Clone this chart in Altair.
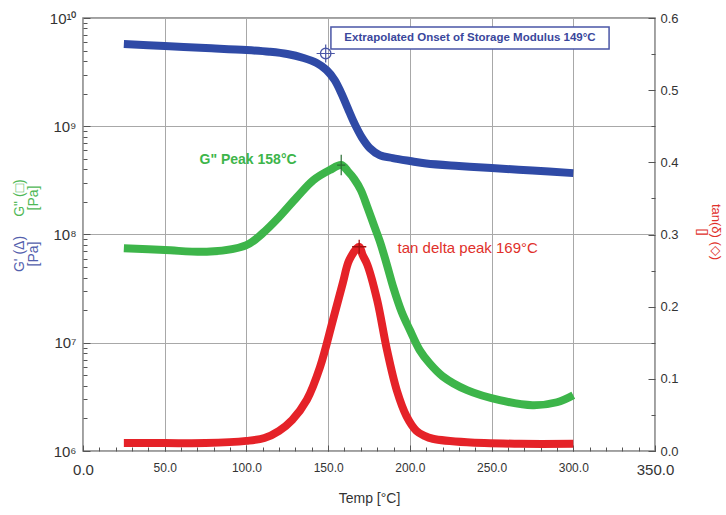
import altair as alt
import pandas as pd

# ---------------- data ----------------
temp_gp = [25, 50, 75, 100, 114, 125, 135, 143, 149, 154, 158, 162, 166, 170.5,
           175.5, 181.5, 189.5, 200, 210, 230, 250, 275, 300]
gp_pa = [5.75e9, 5.51e9, 5.28e9, 5.06e9, 4.88e9, 4.65e9, 4.27e9, 3.84e9, 3.31e9,
         2.67e9, 2.03e9, 1.47e9, 1.07e9, 7.95e8, 6.29e8, 5.42e8, 5.08e8, 4.77e8,
         4.52e8, 4.29e8, 4.11e8, 3.90e8, 3.69e8]

temp_gpp = [25, 50, 78, 100, 110, 120, 131, 141, 151, 158, 162, 166, 170, 174, 178,
            182, 186, 190, 195, 200, 206, 212, 220, 235, 255, 275, 290, 300]
gpp_pa = [7.48e7, 7.18e7, 6.95e7, 7.98e7, 1.03e8, 1.45e8, 2.22e8, 3.18e8, 3.94e8,
          4.38e8, 3.85e8, 3.25e8, 2.57e8, 1.79e8, 1.22e8, 8.32e7, 5.21e7, 3.20e7,
          1.92e7, 1.31e7, 8.55e6, 6.47e6, 4.91e6, 3.65e6, 2.95e6, 2.65e6, 2.82e6, 3.28e6]

temp_tan = [25, 50, 75, 100, 111, 120, 128, 137, 145, 153, 159, 163, 169, 171, 174,
            180, 186, 192, 198, 204, 209, 214, 235, 267, 300]
tan_delta = [0.011, 0.011, 0.011, 0.014, 0.018, 0.028, 0.043, 0.071, 0.116, 0.182,
             0.233, 0.265, 0.283, 0.272, 0.258, 0.209, 0.140, 0.084, 0.048, 0.028,
             0.021, 0.017, 0.012, 0.010, 0.010]

x_major = [0, 50, 100, 150, 200, 250, 300, 350]
x_minor = list(range(0, 351, 10))
log_major = [1e6, 1e7, 1e8, 1e9, 1e10]
log_minor = [m * 10 ** e for e in range(6, 10) for m in range(2, 10)]
tan_major = [0.0, 0.1, 0.2, 0.3, 0.4, 0.5, 0.6]
tan_minor = [0.05, 0.15, 0.25, 0.35, 0.45, 0.55]

onset_T, onset_v = [148.5], [4.7e9]
onset_text = ["Extrapolated Onset of Storage Modulus 149°C"]
onset_box_T, onset_box_T2 = [151.7], [321.9]
onset_box_v, onset_box_v2 = [8.26e9], [5.17e9]
onset_text_T, onset_text_v = [236.8], [6.53e9]

gpp_peak_T, gpp_peak_v = [158], [4.38e8]
gpp_label = ['G" Peak 158°C']
gpp_label_T, gpp_label_v = [101], [4.9e8]

tan_peak_T, tan_peak_v = [169], [0.283]
tan_label = ["tan delta peak 169°C"]
tan_label_T, tan_label_v = [192.5], [0.281]

BLUE = "#2f4aa6"
GREEN = "#3db54a"
RED = "#e52228"
FONT = "Liberation Sans"
INTERP = "catmull-rom"

XS = alt.Scale(domain=[0, 350], nice=False, zero=False)
YL = alt.Scale(type="log", domain=[1e6, 1e10], nice=False)
YR = alt.Scale(domain=[0, 0.6], nice=False, zero=False)

df_gp = pd.DataFrame({"T": temp_gp, "v": gp_pa})
df_gpp = pd.DataFrame({"T": temp_gpp, "v": gpp_pa})
df_tan = pd.DataFrame({"T": temp_tan, "v": tan_delta})

sup_expr = ("datum.value >= 1e10*0.99 ? '10¹⁰' : datum.value >= 1e9*0.99 ? '10⁹' : "
            "datum.value >= 1e8*0.99 ? '10⁸' : datum.value >= 1e7*0.99 ? '10⁷' : '10⁶'")

NOX = alt.X("T:Q", scale=XS, axis=None)

# ---------------- main series ----------------
blue = alt.Chart(df_gp).mark_line(color=BLUE, strokeWidth=8, interpolate=INTERP).encode(
    x=alt.X("T:Q", scale=XS, axis=alt.Axis(
        orient="bottom", values=x_major, format=".1f", grid=True, gridColor="#a8a8a8",
        gridWidth=1, ticks=False, domain=False, labelFlush=False,
        labelFontSize={"condition": {"test": "datum.value == 0 || datum.value == 350", "value": 15}, "value": 12},
        labelColor="#333333", labelPadding=11, labelFont=FONT,
        title="Temp [°C]", titleFont=FONT, titleFontSize=14, titleFontWeight="normal",
        titleColor="#333333", titleY=40, titleBaseline="top")),
    y=alt.Y("v:Q", scale=YL, axis=alt.Axis(
        orient="left", values=log_major, labelExpr=sup_expr, grid=True, gridColor="#a8a8a8",
        gridWidth=1, ticks=False, domain=False, title=None, labelFontSize=15,
        labelColor="#333333", labelPadding=7, labelFont=FONT)),
)

green = alt.Chart(df_gpp).mark_line(color=GREEN, strokeWidth=8, interpolate=INTERP).encode(
    x=NOX, y=alt.Y("v:Q", scale=YL, axis=None))

red = alt.Chart(df_tan).mark_line(color=RED, strokeWidth=8, interpolate=INTERP).encode(
    x=NOX,
    y=alt.Y("v:Q", scale=YR, axis=alt.Axis(
        orient="right", values=tan_major, format=".1f", grid=False, ticks=False,
        domain=False, title=None, labelFontSize=13, labelColor="#333333",
        labelPadding=5, labelFont=FONT)))

# ---------------- inward tick axes (invisible marks) ----------------
def tick_layer(df, yscale, xvals, xsize, yvals, ysize, yorient):
    xa = alt.Axis(orient="bottom", values=xvals, tickSize=xsize, offset=-xsize, labels=False,
                  domain=False, grid=False, title=None, tickColor="#555555") if xvals else None
    ya = alt.Axis(orient=yorient, values=yvals, tickSize=ysize, offset=-ysize, labels=False,
                  domain=False, grid=False, title=None, tickColor="#555555") if yvals else None
    return alt.Chart(df).mark_point(opacity=0).encode(
        x=alt.X("T:Q", scale=XS, axis=xa), y=alt.Y("v:Q", scale=yscale, axis=ya))

t1 = tick_layer(df_gp, YL, x_minor, 4, log_minor, 4, "left")
t2 = tick_layer(df_gp, YL, x_major, 6, log_major, 7, "left")
t3 = tick_layer(df_tan, YR, None, 0, tan_minor, 4, "right")
t4 = tick_layer(df_tan, YR, None, 0, tan_major, 7, "right")

# ---------------- annotations ----------------
box = alt.Chart(pd.DataFrame({"a": onset_box_T, "b": onset_box_T2, "c": onset_box_v, "d": onset_box_v2})).mark_rect(
    fill="white", stroke="#4a56a6", strokeWidth=1.5).encode(
    x=alt.X("a:Q", scale=XS, axis=None), x2="b:Q",
    y=alt.Y("c:Q", scale=YL, axis=None), y2="d:Q")

box_text = alt.Chart(pd.DataFrame({"T": onset_text_T, "v": onset_text_v, "t": onset_text})).mark_text(
    font=FONT, fontSize=11.5, fontWeight="bold", color="#3a479c").encode(
    x=alt.X("T:Q", scale=XS, axis=None), y=alt.Y("v:Q", scale=YL, axis=None), text="t:N")

df_on = pd.DataFrame({"T": onset_T, "v": onset_v})
onset_c = alt.Chart(df_on).mark_point(shape="circle", size=110, filled=False, color="#4a56a6",
                                      strokeWidth=1.3, opacity=1).encode(
    x=alt.X("T:Q", scale=XS, axis=None), y=alt.Y("v:Q", scale=YL, axis=None))
onset_x = alt.Chart(df_on).mark_point(shape="M-1,0L1,0M0,-1L0,1", size=330, filled=False,
                                      color="#4a56a6", strokeWidth=1.2, opacity=1).encode(
    x=alt.X("T:Q", scale=XS, axis=None), y=alt.Y("v:Q", scale=YL, axis=None))

gpp_mark = alt.Chart(pd.DataFrame({"T": gpp_peak_T, "v": gpp_peak_v})).mark_point(
    shape="M0,-1L0,1M-0.4,0L0.4,0", size=420, filled=False, color="#2b6e34", strokeWidth=1.2,
    opacity=1).encode(x=alt.X("T:Q", scale=XS, axis=None), y=alt.Y("v:Q", scale=YL, axis=None))

gpp_text = alt.Chart(pd.DataFrame({"T": gpp_label_T, "v": gpp_label_v, "t": gpp_label})).mark_text(
    font=FONT, fontSize=14, fontWeight="bold", color=GREEN, align="center").encode(
    x=alt.X("T:Q", scale=XS, axis=None), y=alt.Y("v:Q", scale=YL, axis=None), text="t:N")

tan_mark = alt.Chart(pd.DataFrame({"T": tan_peak_T, "v": tan_peak_v})).mark_point(
    shape="M-1,0L1,0M0,-1L0,1", size=200, filled=False, color="#a01010", strokeWidth=1.3,
    opacity=1).encode(x=alt.X("T:Q", scale=XS, axis=None), y=alt.Y("v:Q", scale=YR, axis=None))

tan_text = alt.Chart(pd.DataFrame({"T": tan_label_T, "v": tan_label_v, "t": tan_label})).mark_text(
    font=FONT, fontSize=15, fontWeight="normal", color="#e0302a", align="left").encode(
    x=alt.X("T:Q", scale=XS, axis=None), y=alt.Y("v:Q", scale=YR, axis=None), text="t:N")

# ---------------- axis titles as text ----------------
def side_title(txt, xpx, ypx, color, angle, size=14):
    return alt.Chart(pd.DataFrame({"t": [txt]})).mark_text(
        font=FONT, fontSize=size, color=color, angle=angle, align="center", baseline="middle").encode(
        x=alt.value(xpx), y=alt.value(ypx), text="t:N")

titles = [
    side_title('G" (□)', 20 - 83, 198 - 18, "#4fb856", 270),
    side_title("[Pa]", 34 - 83, 198 - 18, "#4fb856", 270),
    side_title("G' (Δ)", 20 - 83, 254 - 18, "#5360ad", 270),
    side_title("[Pa]", 34 - 83, 254 - 18, "#5360ad", 270),
    side_title("tan(δ) (◇)", 716 - 83, 232 - 18, "#e0302a", 90, 13),
    side_title("[]", 703 - 83, 232 - 18, "#e0302a", 90, 13),
]

chart = alt.layer(
    blue, green, red, t1, t2, t3, t4, box, box_text, onset_c, onset_x,
    gpp_mark, gpp_text, tan_mark, tan_text, *titles
).resolve_scale(x="independent", y="independent").resolve_axis(
    x="independent", y="independent"
).properties(
    width=572, height=433,
    autosize=alt.AutoSizeParams(type="none"),
    padding={"left": 83, "top": 18, "right": 71, "bottom": 64},
    background="white",
).configure_view(stroke="#808080", strokeWidth=1.5)

chart.save("out.html", embed_options={"renderer": "svg", "actions": False})
